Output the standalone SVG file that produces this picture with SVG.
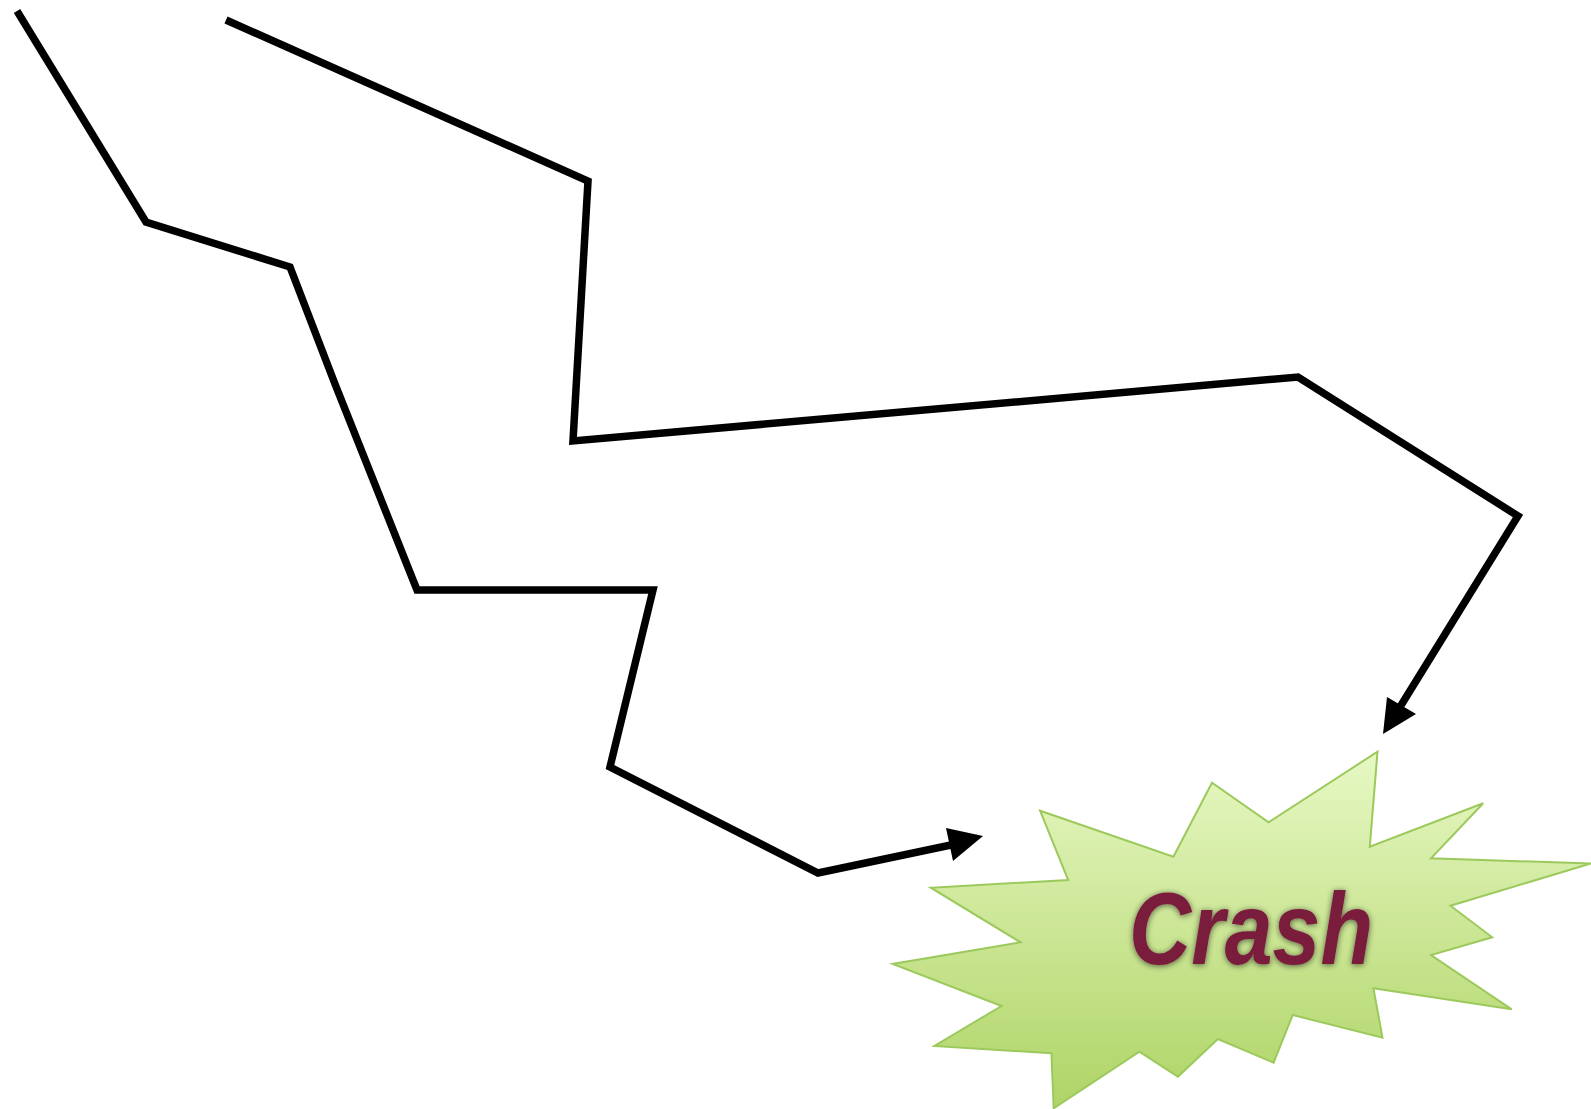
<svg xmlns="http://www.w3.org/2000/svg" width="1591" height="1109" viewBox="0 0 1591 1109">
  <style>
    .path { fill: none; stroke: #000; stroke-width: 7.5; stroke-linejoin: miter; stroke-miterlimit: 10; }
    .head { fill: #000; stroke: none; }
    .crash { font-family: "Liberation Sans", Arial, sans-serif; font-weight: bold; font-style: italic; fill: #7a1a3a; }
  </style>
  <defs>
    <linearGradient id="burstFill" x1="0" y1="0" x2="0" y2="1">
      <stop offset="0" stop-color="#e7f8c4"/>
      <stop offset="1" stop-color="#afd466"/>
    </linearGradient>
    <filter id="glow" x="-20%" y="-30%" width="140%" height="160%">
      <feGaussianBlur in="SourceAlpha" stdDeviation="3"/>
      <feOffset dx="0" dy="1" result="b"/>
      <feComponentTransfer><feFuncA type="linear" slope="0.6"/></feComponentTransfer>
      <feMerge><feMergeNode/><feMergeNode in="SourceGraphic"/></feMerge>
    </filter>
  </defs>
  <g id="crash">
    <polygon points="1377.5,751.7 1369.8,846.7 1483.2,803.3 1431,858.3 1591,863.5 1450.5,905.7 1492.2,937.3 1431,955 1511.7,1009.3 1373.4,988.3 1382.5,1037.7 1292.7,1015 1273.6,1062.7 1217.9,1039 1177.9,1076.7 1139.4,1051.7 1053.7,1108.3 1051.4,1053.3 934.4,1046 1001.5,1006 892.7,964 1020.6,942.3 930.8,887.7 1068.2,880 1040.1,810.7 1173.4,856.7 1212,782.7 1268.6,822.3" fill="url(#burstFill)" stroke="#9cc95c" stroke-width="2" stroke-linejoin="miter"/>
    <text class="crash" x="1129" y="964" font-size="102" textLength="244" lengthAdjust="spacingAndGlyphs" filter="url(#glow)">Crash</text>
  </g>
  <g id="connectors">
    <polyline class="path" points="17,11 146,222 290,267 335,384 417,590 653,590 610,767 818,873 951,845"/>
    <polygon class="head" points="983,836 946,828 953,861"/>
    <polyline class="path" points="226,20 588,181 573,441 1298,377 1518,516 1400,707"/>
    <polygon class="head" points="1383,734 1387,697 1416,714"/>
  </g>
</svg>
